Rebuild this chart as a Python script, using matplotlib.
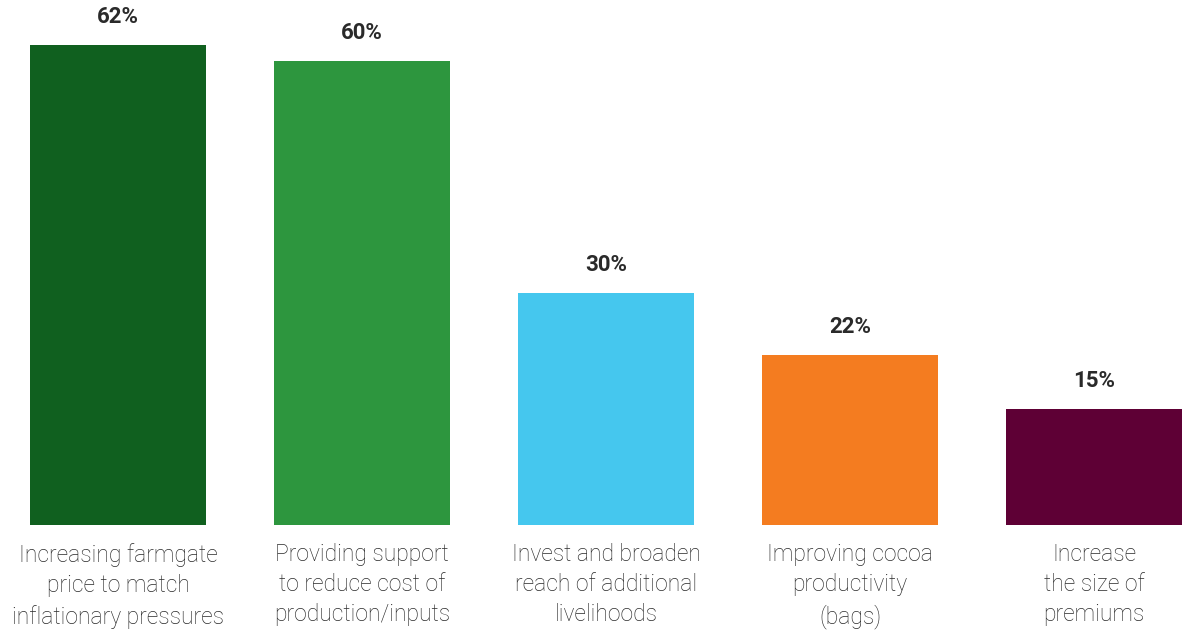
import matplotlib.pyplot as plt

# data
categories = [
    "Increasing farmgate\nprice to match\ninflationary pressures",
    "Providing support\nto reduce cost of\nproduction/inputs",
    "Invest and broaden\nreach of additional\nlivelihoods",
    "Improving cocoa\nproductivity\n(bags)",
    "Increase\nthe size of\npremiums",
]
values = [62, 60, 30, 22, 15]
colors = ["#10601F", "#2D963E", "#45C7EE", "#F47C20", "#5E0035"]

plt.rcParams['font.family'] = ['Roboto', 'DejaVu Sans']

fig = plt.figure(figsize=(11.82, 6.3), dpi=100)
ax = fig.add_axes([0, 0.1667, 1, 0.8333])

x = range(len(values))
bars = ax.bar(x, values, width=0.721, color=colors)

for xi, v in zip(x, values):
    ax.annotate(f"{v}%", (xi, v), xytext=(0, 12), textcoords="offset points",
                ha="center", va="bottom", fontsize=16, fontweight="bold",
                color="#2a2a2a")

ax.set_xticks(list(x))
ax.set_xticklabels(categories, fontsize=16.5, color="#2a2a2a", fontweight="light",
                   linespacing=1.4)
ax.tick_params(axis="x", length=0, pad=13)
ax.set_yticks([])
ax.set_xlim(-0.4836, 4.3607)
ax.set_ylim(0, 67.83)
for s in ax.spines.values():
    s.set_visible(False)

fig.savefig("out.png", dpi=100)
